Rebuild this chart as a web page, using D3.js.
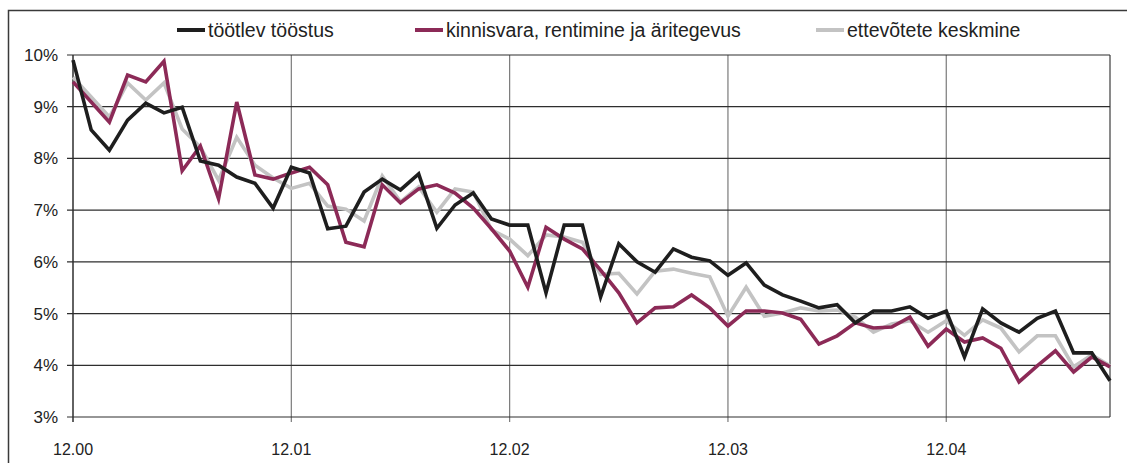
<!DOCTYPE html>
<html>
<head>
<meta charset="utf-8">
<script src="https://cdn.jsdelivr.net/npm/d3@7"></script>
<style>
  body { margin: 0; background: #fff; }
  svg { display: block; font-family: "Liberation Sans", Arial, sans-serif; }
</style>
</head>
<body>
<svg id="chart"></svg>
<script>
// monthly values, Dec 2000 .. Oct 2004 (58 months)
const tootlev = [9.9, 8.55, 8.16, 8.74, 9.07, 8.88, 8.99, 7.95, 7.87, 7.64, 7.52, 7.04,
  7.83, 7.72, 6.64, 6.69, 7.35, 7.60, 7.39, 7.70, 6.65, 7.10, 7.33, 6.83,
  6.71, 6.71, 5.40, 6.71, 6.71, 5.32, 6.35, 6.0, 5.80, 6.25, 6.09, 6.02,
  5.74, 5.98, 5.55, 5.36, 5.24, 5.11, 5.17, 4.82, 5.05, 5.05, 5.13, 4.91,
  5.05, 4.16, 5.09, 4.82, 4.64, 4.91, 5.05, 4.24, 4.24, 3.70]
const kinnisvara = [9.48, 9.09, 8.70, 9.61, 9.48, 9.88, 7.76, 8.24, 7.22, 9.09, 7.68, 7.60,
  7.72, 7.83, 7.49, 6.38, 6.29, 7.49, 7.14, 7.41, 7.49, 7.33, 7.04, 6.64,
  6.21, 5.51, 6.67, 6.44, 6.25, 5.84, 5.40, 4.82, 5.11, 5.13, 5.36, 5.11,
  4.76, 5.05, 5.05, 5.01, 4.89, 4.41, 4.57, 4.82, 4.72, 4.74, 4.93, 4.37,
  4.70, 4.45, 4.53, 4.33, 3.68, 3.99, 4.28, 3.87, 4.16, 3.97]
const keskmine = [9.57, 9.19, 8.80, 9.46, 9.13, 9.46, 8.57, 8.22, 7.58, 8.41, 7.87, 7.62,
  7.42, 7.52, 7.08, 7.02, 6.79, 7.66, 7.16, 7.45, 6.96, 7.41, 7.35, 6.62,
  6.44, 6.12, 6.52, 6.48, 6.38, 5.76, 5.78, 5.38, 5.82, 5.86, 5.78, 5.71,
  4.95, 5.51, 4.95, 5.01, 5.11, 5.05, 5.07, 4.93, 4.64, 4.80, 4.86, 4.64,
  4.86, 4.58, 4.88, 4.72, 4.26, 4.57, 4.57, 3.97, 4.20, 3.99]

const seriesNames = ["töötlev tööstus", "kinnisvara, rentimine ja äritegevus", "ettevõtete keskmine"]
const seriesColors = ["#1e1e1e", "#8c2a57", "#c3c3c3"]
const yearTicks = [0, 12, 24, 36, 48]
const yearLabels = ["12.00", "12.01", "12.02", "12.03", "12.04"]
const yTicks = [3, 4, 5, 6, 7, 8, 9, 10]

const W = 1127, H = 463
const margin = {top: 55, right: 17, bottom: 46, left: 73}
const width = W - margin.left - margin.right,
  height = H - margin.top - margin.bottom

const svg = d3.select("#chart").attr("width", W).attr("height", H)

// outer frame
svg.append("rect")
  .attr("x", 8.5).attr("y", 10.5)
  .attr("width", W + 10).attr("height", H + 10)
  .attr("fill", "none").attr("stroke", "#3a3a3a").attr("stroke-width", 1.5)

const g = svg.append("g").attr("transform", "translate(" + margin.left + "," + margin.top + ")")

const x = d3.scaleLinear().domain([0, tootlev.length - 1]).range([0, width])
const y = d3.scaleLinear().domain([3, 10]).range([height, 0])

// vertical gridlines at years
g.append("g")
  .selectAll("line")
  .data(yearTicks.slice(1))
  .enter().append("line")
  .attr("x1", d => x(d)).attr("x2", d => x(d))
  .attr("y1", 0).attr("y2", height + 5)
  .attr("stroke", "#7a7a7a").attr("stroke-width", 1.2)

// right border
g.append("line")
  .attr("x1", width).attr("x2", width)
  .attr("y1", 0).attr("y2", height)
  .attr("stroke", "#8a8a8a").attr("stroke-width", 2)

// horizontal gridlines
g.append("g")
  .selectAll("line")
  .data(yTicks)
  .enter().append("line")
  .attr("x1", -6).attr("x2", width)
  .attr("y1", d => y(d)).attr("y2", d => y(d))
  .attr("stroke", "#2e2e2e").attr("stroke-width", 1.2)

// y axis line
g.append("line")
  .attr("x1", 0).attr("x2", 0)
  .attr("y1", 0).attr("y2", height + 5)
  .attr("stroke", "#2e2e2e").attr("stroke-width", 1.5)

// y labels
g.append("g")
  .selectAll("text")
  .data(yTicks)
  .enter().append("text")
  .attr("x", -15).attr("y", d => y(d) + 6)
  .attr("text-anchor", "end")
  .attr("font-size", "17px").attr("fill", "#222")
  .text(d => d + "%")

// x labels
g.append("g")
  .selectAll("text")
  .data(yearTicks)
  .enter().append("text")
  .attr("x", d => x(d)).attr("y", height + 38)
  .attr("text-anchor", "middle")
  .attr("font-size", "16px").attr("fill", "#222")
  .text((d, i) => yearLabels[i])

const line = d3.line()
  .x((d, i) => x(i))
  .y(d => y(d))

const allSeries = [tootlev, kinnisvara, keskmine]
// draw gray first, then magenta, then black on top
g.append("g")
  .selectAll("path")
  .data([2, 1, 0])
  .enter().append("path")
  .attr("d", k => line(allSeries[k]))
  .attr("fill", "none")
  .attr("stroke", k => seriesColors[k])
  .attr("stroke-width", 3.6)
  .attr("stroke-linejoin", "miter")

// legend
const legendX = [177, 415, 816]
const leg = svg.append("g").selectAll("g")
  .data([0, 1, 2])
  .enter().append("g")
  .attr("transform", d => "translate(" + legendX[d] + ",30)")

leg.append("line")
  .attr("x1", 0).attr("x2", 28)
  .attr("stroke", d => seriesColors[d])
  .attr("stroke-width", 4)

leg.append("text")
  .attr("x", 31).attr("y", 7)
  .attr("font-size", "19.5px").attr("fill", "#222")
  .text(d => seriesNames[d])
</script>
</body>
</html>
